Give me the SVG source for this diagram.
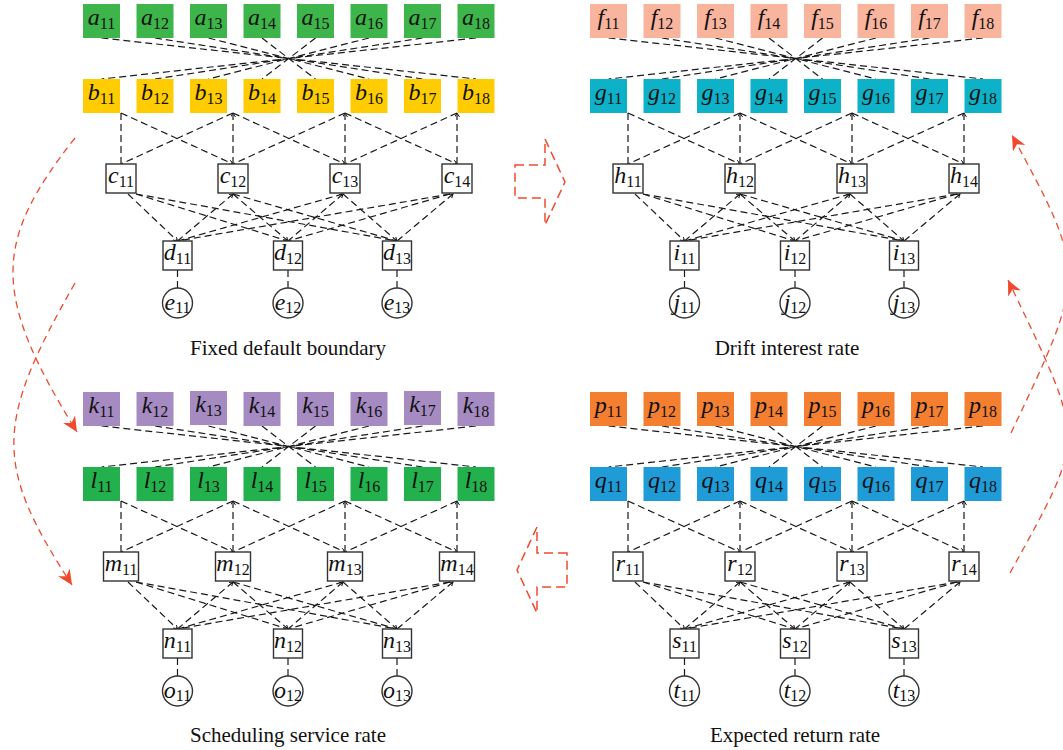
<svg xmlns="http://www.w3.org/2000/svg" width="1063" height="750" viewBox="0 0 1063 750">
  <defs>
    <style>
      .e{fill:none;stroke:#1a1a1a;stroke-width:1.2;stroke-dasharray:7 4}
      .box{fill:#fff;stroke:#333;stroke-width:1.4}
      .lb{font-family:"Liberation Serif",serif;font-size:24px;text-anchor:middle;fill:#111}
      .v{font-style:italic}
      .s{font-size:16px}
      .cap{font-family:"Liberation Serif",serif;font-size:21px;text-anchor:middle;fill:#111}
      .red{fill:none;stroke:#EF4A2E;stroke-width:1.3;stroke-dasharray:7 5}
      .blk{fill:none;stroke:#EF4A2E;stroke-width:1.5;stroke-dasharray:9 5}
      .fa{fill:#3DB54A}.fb{fill:#FFCC00}.ff{fill:#F8B49C}.fg{fill:#0DB1C8}
      .fk{fill:#A68BC3}.fl{fill:#22B14C}.fp{fill:#F47F31}.fq{fill:#1F9BD7}
    </style>
    <marker id="tip" markerUnits="userSpaceOnUse" markerWidth="6" markerHeight="6" refX="4" refY="2.5" orient="auto-start-reverse">
      <path d="M0,0 L4,2.5 L0,5" fill="none" stroke="#1a1a1a" stroke-width="1"/>
    </marker>
    <marker id="rh" markerUnits="userSpaceOnUse" markerWidth="17" markerHeight="15" refX="15" refY="7" orient="auto">
      <path d="M0,0 L15,7 L0,14 L4.5,7 Z" fill="#EF4A2E"/>
    </marker>
    <!-- edge layout shared by the four networks -->
    <g id="edges" class="e">
      <!-- first layer to second layer -->
      <path d="M101.5 38L476 79M155 38L422.5 79M208.5 38L369 79M262 38L315.5 79M315.5 38L262 79M369 38L208.5 79M422.5 38L155 79M476 38L101.5 79"/>
      <!-- second layer to box layer -->
      <path d="M121 113V164"/>
      <path d="M233 113V164" marker-start="url(#tip)"/>
      <path d="M345 113V164" marker-start="url(#tip)"/>
      <path d="M457 113V164" marker-start="url(#tip)"/>
      <path d="M121 113L233 164" marker-end="url(#tip)"/>
      <path d="M233 113L121 164"/>
      <path d="M233 113L345 164" marker-end="url(#tip)"/>
      <path d="M345 113L233 164"/>
      <path d="M345 113L457 164" marker-end="url(#tip)"/>
      <path d="M457 113L345 164"/>
      <!-- box layer to lower box layer -->
      <path d="M128 194L177.5 241" marker-end="url(#tip)"/>
      <path d="M136 194L288 241"/>
      <path d="M136 194L397 241"/>
      <path d="M233 194L177.5 241" marker-start="url(#tip)"/>
      <path d="M233 194L288 241" marker-end="url(#tip)"/>
      <path d="M233 194L397 241"/>
      <path d="M343 194L177.5 241"/>
      <path d="M343 194L288 241" marker-start="url(#tip)"/>
      <path d="M343 194L397 241" marker-end="url(#tip)"/>
      <path d="M450 194L177.5 241"/>
      <path d="M450 194L288 241"/>
      <path d="M453 194L397 241" marker-start="url(#tip)"/>
      <!-- lower boxes to circles -->
      <path d="M177.5 270V288M288 270V288M397 270V288"/>
    </g>
  </defs>

  <rect width="1063" height="750" fill="#fff"/>

  <g id="connectors">
    <use href="#edges"/>
    <use href="#edges" transform="translate(507 0)"/>
    <use href="#edges" transform="translate(0 388)"/>
    <use href="#edges" transform="translate(507 388)"/>
    <!-- curved transfer arrows -->
    <path class="red" d="M75 138C-8 243 -8 295 77 432" marker-end="url(#rh)"/>
    <path class="red" d="M75 283C-6 425 -6 465 72 585" marker-end="url(#rh)"/>
    <path class="red" d="M1011 433C1087 273 1087 274 1012 135" marker-end="url(#rh)"/>
    <path class="red" d="M1010 573C1087 433 1087 445 1008 280" marker-end="url(#rh)"/>
    <!-- hollow block arrows -->
    <polygon class="blk" points="515,165 545,165 545,139 565,182 545,225 545,198 515,198"/>
    <polygon class="blk" points="567,553 537,553 537,527 517,570 537,613 537,587 567,587"/>
  </g>

  <!-- network: fixed default boundary -->
  <g id="a11" transform="translate(101.5 21)"><rect class="fa" x="-18.5" y="-17" width="37" height="34"/><text class="lb" y="4"><tspan class="v">a</tspan><tspan class="s" dy="3.5">11</tspan></text></g>
  <g id="a12" transform="translate(155 21)"><rect class="fa" x="-18.5" y="-17" width="37" height="34"/><text class="lb" y="4"><tspan class="v">a</tspan><tspan class="s" dy="3.5">12</tspan></text></g>
  <g id="a13" transform="translate(208.5 21)"><rect class="fa" x="-18.5" y="-17" width="37" height="34"/><text class="lb" y="4"><tspan class="v">a</tspan><tspan class="s" dy="3.5">13</tspan></text></g>
  <g id="a14" transform="translate(262 21)"><rect class="fa" x="-18.5" y="-17" width="37" height="34"/><text class="lb" y="4"><tspan class="v">a</tspan><tspan class="s" dy="3.5">14</tspan></text></g>
  <g id="a15" transform="translate(315.5 21)"><rect class="fa" x="-18.5" y="-17" width="37" height="34"/><text class="lb" y="4"><tspan class="v">a</tspan><tspan class="s" dy="3.5">15</tspan></text></g>
  <g id="a16" transform="translate(369 21)"><rect class="fa" x="-18.5" y="-17" width="37" height="34"/><text class="lb" y="4"><tspan class="v">a</tspan><tspan class="s" dy="3.5">16</tspan></text></g>
  <g id="a17" transform="translate(422.5 21)"><rect class="fa" x="-18.5" y="-17" width="37" height="34"/><text class="lb" y="4"><tspan class="v">a</tspan><tspan class="s" dy="3.5">17</tspan></text></g>
  <g id="a18" transform="translate(476 21)"><rect class="fa" x="-18.5" y="-17" width="37" height="34"/><text class="lb" y="4"><tspan class="v">a</tspan><tspan class="s" dy="3.5">18</tspan></text></g>

  <g id="b11" transform="translate(101.5 96)"><rect class="fb" x="-18.5" y="-17" width="37" height="34"/><text class="lb" y="4"><tspan class="v">b</tspan><tspan class="s" dy="3.5">11</tspan></text></g>
  <g id="b12" transform="translate(155 96)"><rect class="fb" x="-18.5" y="-17" width="37" height="34"/><text class="lb" y="4"><tspan class="v">b</tspan><tspan class="s" dy="3.5">12</tspan></text></g>
  <g id="b13" transform="translate(208.5 96)"><rect class="fb" x="-18.5" y="-17" width="37" height="34"/><text class="lb" y="4"><tspan class="v">b</tspan><tspan class="s" dy="3.5">13</tspan></text></g>
  <g id="b14" transform="translate(262 96)"><rect class="fb" x="-18.5" y="-17" width="37" height="34"/><text class="lb" y="4"><tspan class="v">b</tspan><tspan class="s" dy="3.5">14</tspan></text></g>
  <g id="b15" transform="translate(315.5 96)"><rect class="fb" x="-18.5" y="-17" width="37" height="34"/><text class="lb" y="4"><tspan class="v">b</tspan><tspan class="s" dy="3.5">15</tspan></text></g>
  <g id="b16" transform="translate(369 96)"><rect class="fb" x="-18.5" y="-17" width="37" height="34"/><text class="lb" y="4"><tspan class="v">b</tspan><tspan class="s" dy="3.5">16</tspan></text></g>
  <g id="b17" transform="translate(422.5 96)"><rect class="fb" x="-18.5" y="-17" width="37" height="34"/><text class="lb" y="4"><tspan class="v">b</tspan><tspan class="s" dy="3.5">17</tspan></text></g>
  <g id="b18" transform="translate(476 96)"><rect class="fb" x="-18.5" y="-17" width="37" height="34"/><text class="lb" y="4"><tspan class="v">b</tspan><tspan class="s" dy="3.5">18</tspan></text></g>

  <g id="c11" transform="translate(121 178.5)"><rect class="box" x="-15" y="-14.5" width="30" height="29"/><text class="lb" y="4.5"><tspan class="v">c</tspan><tspan class="s" dy="4">11</tspan></text></g>
  <g id="c12" transform="translate(233 178.5)"><rect class="box" x="-15" y="-14.5" width="30" height="29"/><text class="lb" y="4.5"><tspan class="v">c</tspan><tspan class="s" dy="4">12</tspan></text></g>
  <g id="c13" transform="translate(345 178.5)"><rect class="box" x="-15" y="-14.5" width="30" height="29"/><text class="lb" y="4.5"><tspan class="v">c</tspan><tspan class="s" dy="4">13</tspan></text></g>
  <g id="c14" transform="translate(457 178.5)"><rect class="box" x="-15" y="-14.5" width="30" height="29"/><text class="lb" y="4.5"><tspan class="v">c</tspan><tspan class="s" dy="4">14</tspan></text></g>

  <g id="d11" transform="translate(177.5 255.5)"><rect class="box" x="-14.5" y="-14.5" width="29" height="29"/><text class="lb" y="4.5"><tspan class="v">d</tspan><tspan class="s" dy="4">11</tspan></text></g>
  <g id="d12" transform="translate(288 255.5)"><rect class="box" x="-14.5" y="-14.5" width="29" height="29"/><text class="lb" y="4.5"><tspan class="v">d</tspan><tspan class="s" dy="4">12</tspan></text></g>
  <g id="d13" transform="translate(397 255.5)"><rect class="box" x="-14.5" y="-14.5" width="29" height="29"/><text class="lb" y="4.5"><tspan class="v">d</tspan><tspan class="s" dy="4">13</tspan></text></g>

  <g id="e11" transform="translate(177.5 303)"><circle class="box" r="15"/><text class="lb" y="7"><tspan class="v">e</tspan><tspan class="s" dy="3">11</tspan></text></g>
  <g id="e12" transform="translate(288 303)"><circle class="box" r="15"/><text class="lb" y="7"><tspan class="v">e</tspan><tspan class="s" dy="3">12</tspan></text></g>
  <g id="e13" transform="translate(397 303)"><circle class="box" r="15"/><text class="lb" y="7"><tspan class="v">e</tspan><tspan class="s" dy="3">13</tspan></text></g>

  <!-- network: drift interest rate -->
  <g id="f11" transform="translate(608.5 21)"><rect class="ff" x="-18.5" y="-17" width="37" height="34"/><text class="lb" y="4"><tspan class="v">f</tspan><tspan class="s" dy="3.5">11</tspan></text></g>
  <g id="f12" transform="translate(662 21)"><rect class="ff" x="-18.5" y="-17" width="37" height="34"/><text class="lb" y="4"><tspan class="v">f</tspan><tspan class="s" dy="3.5">12</tspan></text></g>
  <g id="f13" transform="translate(715.5 21)"><rect class="ff" x="-18.5" y="-17" width="37" height="34"/><text class="lb" y="4"><tspan class="v">f</tspan><tspan class="s" dy="3.5">13</tspan></text></g>
  <g id="f14" transform="translate(769 21)"><rect class="ff" x="-18.5" y="-17" width="37" height="34"/><text class="lb" y="4"><tspan class="v">f</tspan><tspan class="s" dy="3.5">14</tspan></text></g>
  <g id="f15" transform="translate(822.5 21)"><rect class="ff" x="-18.5" y="-17" width="37" height="34"/><text class="lb" y="4"><tspan class="v">f</tspan><tspan class="s" dy="3.5">15</tspan></text></g>
  <g id="f16" transform="translate(876 21)"><rect class="ff" x="-18.5" y="-17" width="37" height="34"/><text class="lb" y="4"><tspan class="v">f</tspan><tspan class="s" dy="3.5">16</tspan></text></g>
  <g id="f17" transform="translate(929.5 21)"><rect class="ff" x="-18.5" y="-17" width="37" height="34"/><text class="lb" y="4"><tspan class="v">f</tspan><tspan class="s" dy="3.5">17</tspan></text></g>
  <g id="f18" transform="translate(983 21)"><rect class="ff" x="-18.5" y="-17" width="37" height="34"/><text class="lb" y="4"><tspan class="v">f</tspan><tspan class="s" dy="3.5">18</tspan></text></g>

  <g id="g11" transform="translate(608.5 96)"><rect class="fg" x="-18.5" y="-17" width="37" height="34"/><text class="lb" y="4"><tspan class="v">g</tspan><tspan class="s" dy="3.5">11</tspan></text></g>
  <g id="g12" transform="translate(662 96)"><rect class="fg" x="-18.5" y="-17" width="37" height="34"/><text class="lb" y="4"><tspan class="v">g</tspan><tspan class="s" dy="3.5">12</tspan></text></g>
  <g id="g13" transform="translate(715.5 96)"><rect class="fg" x="-18.5" y="-17" width="37" height="34"/><text class="lb" y="4"><tspan class="v">g</tspan><tspan class="s" dy="3.5">13</tspan></text></g>
  <g id="g14" transform="translate(769 96)"><rect class="fg" x="-18.5" y="-17" width="37" height="34"/><text class="lb" y="4"><tspan class="v">g</tspan><tspan class="s" dy="3.5">14</tspan></text></g>
  <g id="g15" transform="translate(822.5 96)"><rect class="fg" x="-18.5" y="-17" width="37" height="34"/><text class="lb" y="4"><tspan class="v">g</tspan><tspan class="s" dy="3.5">15</tspan></text></g>
  <g id="g16" transform="translate(876 96)"><rect class="fg" x="-18.5" y="-17" width="37" height="34"/><text class="lb" y="4"><tspan class="v">g</tspan><tspan class="s" dy="3.5">16</tspan></text></g>
  <g id="g17" transform="translate(929.5 96)"><rect class="fg" x="-18.5" y="-17" width="37" height="34"/><text class="lb" y="4"><tspan class="v">g</tspan><tspan class="s" dy="3.5">17</tspan></text></g>
  <g id="g18" transform="translate(983 96)"><rect class="fg" x="-18.5" y="-17" width="37" height="34"/><text class="lb" y="4"><tspan class="v">g</tspan><tspan class="s" dy="3.5">18</tspan></text></g>

  <g id="h11" transform="translate(628 178.5)"><rect class="box" x="-15" y="-14.5" width="30" height="29"/><text class="lb" y="4.5"><tspan class="v">h</tspan><tspan class="s" dy="4">11</tspan></text></g>
  <g id="h12" transform="translate(740 178.5)"><rect class="box" x="-15" y="-14.5" width="30" height="29"/><text class="lb" y="4.5"><tspan class="v">h</tspan><tspan class="s" dy="4">12</tspan></text></g>
  <g id="h13" transform="translate(852 178.5)"><rect class="box" x="-15" y="-14.5" width="30" height="29"/><text class="lb" y="4.5"><tspan class="v">h</tspan><tspan class="s" dy="4">13</tspan></text></g>
  <g id="h14" transform="translate(964 178.5)"><rect class="box" x="-15" y="-14.5" width="30" height="29"/><text class="lb" y="4.5"><tspan class="v">h</tspan><tspan class="s" dy="4">14</tspan></text></g>

  <g id="i11" transform="translate(684.5 255.5)"><rect class="box" x="-14.5" y="-14.5" width="29" height="29"/><text class="lb" y="4.5"><tspan class="v">i</tspan><tspan class="s" dy="4">11</tspan></text></g>
  <g id="i12" transform="translate(795 255.5)"><rect class="box" x="-14.5" y="-14.5" width="29" height="29"/><text class="lb" y="4.5"><tspan class="v">i</tspan><tspan class="s" dy="4">12</tspan></text></g>
  <g id="i13" transform="translate(904 255.5)"><rect class="box" x="-14.5" y="-14.5" width="29" height="29"/><text class="lb" y="4.5"><tspan class="v">i</tspan><tspan class="s" dy="4">13</tspan></text></g>

  <g id="j11" transform="translate(684.5 303)"><circle class="box" r="15"/><text class="lb" y="7"><tspan class="v">j</tspan><tspan class="s" dy="3">11</tspan></text></g>
  <g id="j12" transform="translate(795 303)"><circle class="box" r="15"/><text class="lb" y="7"><tspan class="v">j</tspan><tspan class="s" dy="3">12</tspan></text></g>
  <g id="j13" transform="translate(904 303)"><circle class="box" r="15"/><text class="lb" y="7"><tspan class="v">j</tspan><tspan class="s" dy="3">13</tspan></text></g>

  <!-- network: scheduling service rate -->
  <g id="k11" transform="translate(101.5 409)"><rect class="fk" x="-18.5" y="-17" width="37" height="34"/><text class="lb" y="4"><tspan class="v">k</tspan><tspan class="s" dy="3.5">11</tspan></text></g>
  <g id="k12" transform="translate(155 409)"><rect class="fk" x="-18.5" y="-17" width="37" height="34"/><text class="lb" y="4"><tspan class="v">k</tspan><tspan class="s" dy="3.5">12</tspan></text></g>
  <g id="k13" transform="translate(208.5 408)"><rect class="fk" x="-18.5" y="-17" width="37" height="34"/><text class="lb" y="4"><tspan class="v">k</tspan><tspan class="s" dy="3.5">13</tspan></text></g>
  <g id="k14" transform="translate(262 409)"><rect class="fk" x="-18.5" y="-17" width="37" height="34"/><text class="lb" y="4"><tspan class="v">k</tspan><tspan class="s" dy="3.5">14</tspan></text></g>
  <g id="k15" transform="translate(315.5 409)"><rect class="fk" x="-18.5" y="-17" width="37" height="34"/><text class="lb" y="4"><tspan class="v">k</tspan><tspan class="s" dy="3.5">15</tspan></text></g>
  <g id="k16" transform="translate(369 409)"><rect class="fk" x="-18.5" y="-17" width="37" height="34"/><text class="lb" y="4"><tspan class="v">k</tspan><tspan class="s" dy="3.5">16</tspan></text></g>
  <g id="k17" transform="translate(422.5 408)"><rect class="fk" x="-18.5" y="-17" width="37" height="34"/><text class="lb" y="4"><tspan class="v">k</tspan><tspan class="s" dy="3.5">17</tspan></text></g>
  <g id="k18" transform="translate(476 409)"><rect class="fk" x="-18.5" y="-17" width="37" height="34"/><text class="lb" y="4"><tspan class="v">k</tspan><tspan class="s" dy="3.5">18</tspan></text></g>

  <g id="l11" transform="translate(101.5 484)"><rect class="fl" x="-18.5" y="-17" width="37" height="34"/><text class="lb" y="4"><tspan class="v">l</tspan><tspan class="s" dy="3.5">11</tspan></text></g>
  <g id="l12" transform="translate(155 484)"><rect class="fl" x="-18.5" y="-17" width="37" height="34"/><text class="lb" y="4"><tspan class="v">l</tspan><tspan class="s" dy="3.5">12</tspan></text></g>
  <g id="l13" transform="translate(208.5 484)"><rect class="fl" x="-18.5" y="-17" width="37" height="34"/><text class="lb" y="4"><tspan class="v">l</tspan><tspan class="s" dy="3.5">13</tspan></text></g>
  <g id="l14" transform="translate(262 484)"><rect class="fl" x="-18.5" y="-17" width="37" height="34"/><text class="lb" y="4"><tspan class="v">l</tspan><tspan class="s" dy="3.5">14</tspan></text></g>
  <g id="l15" transform="translate(315.5 484)"><rect class="fl" x="-18.5" y="-17" width="37" height="34"/><text class="lb" y="4"><tspan class="v">l</tspan><tspan class="s" dy="3.5">15</tspan></text></g>
  <g id="l16" transform="translate(369 484)"><rect class="fl" x="-18.5" y="-17" width="37" height="34"/><text class="lb" y="4"><tspan class="v">l</tspan><tspan class="s" dy="3.5">16</tspan></text></g>
  <g id="l17" transform="translate(422.5 484)"><rect class="fl" x="-18.5" y="-17" width="37" height="34"/><text class="lb" y="4"><tspan class="v">l</tspan><tspan class="s" dy="3.5">17</tspan></text></g>
  <g id="l18" transform="translate(476 484)"><rect class="fl" x="-18.5" y="-17" width="37" height="34"/><text class="lb" y="4"><tspan class="v">l</tspan><tspan class="s" dy="3.5">18</tspan></text></g>

  <g id="m11" transform="translate(121 566.5)"><rect class="box" x="-17.5" y="-14.5" width="35" height="29"/><text class="lb" y="4.5"><tspan class="v">m</tspan><tspan class="s" dy="4">11</tspan></text></g>
  <g id="m12" transform="translate(233 566.5)"><rect class="box" x="-17.5" y="-14.5" width="35" height="29"/><text class="lb" y="4.5"><tspan class="v">m</tspan><tspan class="s" dy="4">12</tspan></text></g>
  <g id="m13" transform="translate(345 566.5)"><rect class="box" x="-17.5" y="-14.5" width="35" height="29"/><text class="lb" y="4.5"><tspan class="v">m</tspan><tspan class="s" dy="4">13</tspan></text></g>
  <g id="m14" transform="translate(457 566.5)"><rect class="box" x="-17.5" y="-14.5" width="35" height="29"/><text class="lb" y="4.5"><tspan class="v">m</tspan><tspan class="s" dy="4">14</tspan></text></g>

  <g id="n11" transform="translate(177.5 643.5)"><rect class="box" x="-14.5" y="-14.5" width="29" height="29"/><text class="lb" y="4.5"><tspan class="v">n</tspan><tspan class="s" dy="4">11</tspan></text></g>
  <g id="n12" transform="translate(288 643.5)"><rect class="box" x="-14.5" y="-14.5" width="29" height="29"/><text class="lb" y="4.5"><tspan class="v">n</tspan><tspan class="s" dy="4">12</tspan></text></g>
  <g id="n13" transform="translate(397 643.5)"><rect class="box" x="-14.5" y="-14.5" width="29" height="29"/><text class="lb" y="4.5"><tspan class="v">n</tspan><tspan class="s" dy="4">13</tspan></text></g>

  <g id="o11" transform="translate(177.5 691)"><circle class="box" r="15"/><text class="lb" y="7"><tspan class="v">o</tspan><tspan class="s" dy="3">11</tspan></text></g>
  <g id="o12" transform="translate(288 691)"><circle class="box" r="15"/><text class="lb" y="7"><tspan class="v">o</tspan><tspan class="s" dy="3">12</tspan></text></g>
  <g id="o13" transform="translate(397 691)"><circle class="box" r="15"/><text class="lb" y="7"><tspan class="v">o</tspan><tspan class="s" dy="3">13</tspan></text></g>

  <!-- network: expected return rate -->
  <g id="p11" transform="translate(608.5 409)"><rect class="fp" x="-18.5" y="-17" width="37" height="34"/><text class="lb" y="4"><tspan class="v">p</tspan><tspan class="s" dy="3.5">11</tspan></text></g>
  <g id="p12" transform="translate(662 409)"><rect class="fp" x="-18.5" y="-17" width="37" height="34"/><text class="lb" y="4"><tspan class="v">p</tspan><tspan class="s" dy="3.5">12</tspan></text></g>
  <g id="p13" transform="translate(715.5 409)"><rect class="fp" x="-18.5" y="-17" width="37" height="34"/><text class="lb" y="4"><tspan class="v">p</tspan><tspan class="s" dy="3.5">13</tspan></text></g>
  <g id="p14" transform="translate(769 409)"><rect class="fp" x="-18.5" y="-17" width="37" height="34"/><text class="lb" y="4"><tspan class="v">p</tspan><tspan class="s" dy="3.5">14</tspan></text></g>
  <g id="p15" transform="translate(822.5 409)"><rect class="fp" x="-18.5" y="-17" width="37" height="34"/><text class="lb" y="4"><tspan class="v">p</tspan><tspan class="s" dy="3.5">15</tspan></text></g>
  <g id="p16" transform="translate(876 409)"><rect class="fp" x="-18.5" y="-17" width="37" height="34"/><text class="lb" y="4"><tspan class="v">p</tspan><tspan class="s" dy="3.5">16</tspan></text></g>
  <g id="p17" transform="translate(929.5 409)"><rect class="fp" x="-18.5" y="-17" width="37" height="34"/><text class="lb" y="4"><tspan class="v">p</tspan><tspan class="s" dy="3.5">17</tspan></text></g>
  <g id="p18" transform="translate(983 409)"><rect class="fp" x="-18.5" y="-17" width="37" height="34"/><text class="lb" y="4"><tspan class="v">p</tspan><tspan class="s" dy="3.5">18</tspan></text></g>

  <g id="q11" transform="translate(608.5 484)"><rect class="fq" x="-18.5" y="-17" width="37" height="34"/><text class="lb" y="4"><tspan class="v">q</tspan><tspan class="s" dy="3.5">11</tspan></text></g>
  <g id="q12" transform="translate(662 484)"><rect class="fq" x="-18.5" y="-17" width="37" height="34"/><text class="lb" y="4"><tspan class="v">q</tspan><tspan class="s" dy="3.5">12</tspan></text></g>
  <g id="q13" transform="translate(715.5 484)"><rect class="fq" x="-18.5" y="-17" width="37" height="34"/><text class="lb" y="4"><tspan class="v">q</tspan><tspan class="s" dy="3.5">13</tspan></text></g>
  <g id="q14" transform="translate(769 484)"><rect class="fq" x="-18.5" y="-17" width="37" height="34"/><text class="lb" y="4"><tspan class="v">q</tspan><tspan class="s" dy="3.5">14</tspan></text></g>
  <g id="q15" transform="translate(822.5 484)"><rect class="fq" x="-18.5" y="-17" width="37" height="34"/><text class="lb" y="4"><tspan class="v">q</tspan><tspan class="s" dy="3.5">15</tspan></text></g>
  <g id="q16" transform="translate(876 484)"><rect class="fq" x="-18.5" y="-17" width="37" height="34"/><text class="lb" y="4"><tspan class="v">q</tspan><tspan class="s" dy="3.5">16</tspan></text></g>
  <g id="q17" transform="translate(929.5 484)"><rect class="fq" x="-18.5" y="-17" width="37" height="34"/><text class="lb" y="4"><tspan class="v">q</tspan><tspan class="s" dy="3.5">17</tspan></text></g>
  <g id="q18" transform="translate(983 484)"><rect class="fq" x="-18.5" y="-17" width="37" height="34"/><text class="lb" y="4"><tspan class="v">q</tspan><tspan class="s" dy="3.5">18</tspan></text></g>

  <g id="r11" transform="translate(628 566.5)"><rect class="box" x="-15" y="-14.5" width="30" height="29"/><text class="lb" y="4.5"><tspan class="v">r</tspan><tspan class="s" dy="4">11</tspan></text></g>
  <g id="r12" transform="translate(740 566.5)"><rect class="box" x="-15" y="-14.5" width="30" height="29"/><text class="lb" y="4.5"><tspan class="v">r</tspan><tspan class="s" dy="4">12</tspan></text></g>
  <g id="r13" transform="translate(852 566.5)"><rect class="box" x="-15" y="-14.5" width="30" height="29"/><text class="lb" y="4.5"><tspan class="v">r</tspan><tspan class="s" dy="4">13</tspan></text></g>
  <g id="r14" transform="translate(964 566.5)"><rect class="box" x="-15" y="-14.5" width="30" height="29"/><text class="lb" y="4.5"><tspan class="v">r</tspan><tspan class="s" dy="4">14</tspan></text></g>

  <g id="s11" transform="translate(684.5 643.5)"><rect class="box" x="-14.5" y="-14.5" width="29" height="29"/><text class="lb" y="4.5"><tspan class="v">s</tspan><tspan class="s" dy="4">11</tspan></text></g>
  <g id="s12" transform="translate(795 643.5)"><rect class="box" x="-14.5" y="-14.5" width="29" height="29"/><text class="lb" y="4.5"><tspan class="v">s</tspan><tspan class="s" dy="4">12</tspan></text></g>
  <g id="s13" transform="translate(904 643.5)"><rect class="box" x="-14.5" y="-14.5" width="29" height="29"/><text class="lb" y="4.5"><tspan class="v">s</tspan><tspan class="s" dy="4">13</tspan></text></g>

  <g id="t11" transform="translate(684.5 691)"><circle class="box" r="15"/><text class="lb" y="7"><tspan class="v">t</tspan><tspan class="s" dy="3">11</tspan></text></g>
  <g id="t12" transform="translate(795 691)"><circle class="box" r="15"/><text class="lb" y="7"><tspan class="v">t</tspan><tspan class="s" dy="3">12</tspan></text></g>
  <g id="t13" transform="translate(904 691)"><circle class="box" r="15"/><text class="lb" y="7"><tspan class="v">t</tspan><tspan class="s" dy="3">13</tspan></text></g>

  <!-- captions -->
  <g id="captions">
    <text class="cap" x="288" y="355">Fixed default boundary</text>
    <text class="cap" x="787" y="355">Drift interest rate</text>
    <text class="cap" x="288" y="742">Scheduling service rate</text>
    <text class="cap" x="795" y="742">Expected return rate</text>
  </g>
</svg>
